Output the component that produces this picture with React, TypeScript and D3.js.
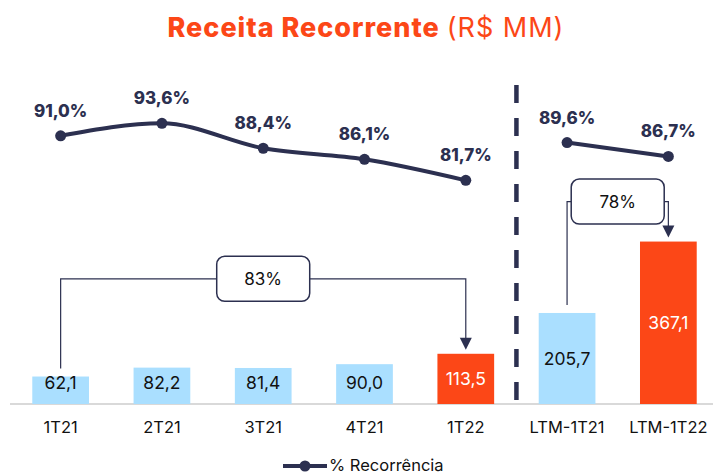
import React, { useRef, useEffect } from 'react';
import * as d3 from 'd3';

// periods and values
const categories = ['1T21', '2T21', '3T21', '4T21', '1T22', 'LTM-1T21', 'LTM-1T22'];
const revenue = [62.1, 82.2, 81.4, 90.0, 113.5, 205.7, 367.1];
const recurrence = [91.0, 93.6, 88.4, 86.1, 81.7, 89.6, 86.7];
const highlighted = ['1T22', 'LTM-1T22'];
const quarterly = ['1T21', '2T21', '3T21', '4T21', '1T22'];
const ltm = ['LTM-1T21', 'LTM-1T22'];
const growthLabels = [
  { from: '1T21', to: '1T22', text: '83%' },
  { from: 'LTM-1T21', to: 'LTM-1T22', text: '78%' },
];

const fmt = (v: number) => v.toFixed(1).replace('.', ',');

const App = () => {
  const svgRef = useRef<SVGSVGElement | null>(null);

  useEffect(() => {
    const svg = d3.select(svgRef.current);
    svg.selectAll('*').remove();

    const width = 713;
    const height = 476;
    const base = 404;
    const navy = '#2c3050';
    const orange = '#fc4717';
    const blue = '#aadfff';
    const font = 'Inter, "Noto Sans", sans-serif';

    svg.attr('width', width).attr('height', height);

    const x = d3.scaleBand().domain(categories).range([10, 719]).paddingInner(0.44).paddingOuter(0.22);
    const y = d3.scaleLinear().domain([0, 400]).range([base, base - 177]);
    const yp = d3.scaleLinear().domain([80, 100]).range([188.5, 92.7]);
    const cx = (c: string) => (x(c) as number) + x.bandwidth() / 2;

    // title
    const title = svg.append('text')
      .attr('x', 366).attr('y', 37)
      .attr('text-anchor', 'middle')
      .attr('font-family', font)
      .attr('font-size', 27)
      .attr('letter-spacing', 1)
      .attr('fill', orange);
    title.append('tspan').attr('font-weight', 800).text('Receita Recorrente ');
    title.append('tspan').attr('font-weight', 400).text('(R$ MM)');

    // baseline
    svg.append('line')
      .attr('x1', 10).attr('x2', width)
      .attr('y1', base).attr('y2', base)
      .attr('stroke', '#d9d9d9').attr('stroke-width', 2);

    // separator
    const sepX = (cx('1T22') + cx('LTM-1T21')) / 2;
    svg.append('line')
      .attr('x1', sepX).attr('x2', sepX)
      .attr('y1', 85).attr('y2', base)
      .attr('stroke', navy).attr('stroke-width', 4.5)
      .attr('stroke-dasharray', '18 15');

    // bars
    const data = categories.map((c, i) => ({ c, v: revenue[i], p: recurrence[i] }));
    svg.selectAll('rect.bar')
      .data(data)
      .join('rect')
      .attr('class', 'bar')
      .attr('x', d => x(d.c) as number)
      .attr('y', d => y(d.v))
      .attr('width', x.bandwidth())
      .attr('height', d => base - y(d.v))
      .attr('fill', d => (highlighted.includes(d.c) ? orange : blue));

    svg.selectAll('text.val')
      .data(data)
      .join('text')
      .attr('class', 'val')
      .attr('x', d => cx(d.c))
      .attr('y', d => Math.min((y(d.v) + base) / 2, base - 21))
      .attr('dy', '0.35em')
      .attr('text-anchor', 'middle')
      .attr('font-family', font)
      .attr('font-size', 17.5)
      .attr('fill', d => (highlighted.includes(d.c) ? '#fff' : '#111'))
      .text(d => fmt(d.v));

    // x labels
    svg.selectAll('text.cat')
      .data(categories)
      .join('text')
      .attr('class', 'cat')
      .attr('x', d => cx(d))
      .attr('y', 433)
      .attr('text-anchor', 'middle')
      .attr('font-family', font)
      .attr('font-size', 16.5)
      .attr('fill', '#111')
      .text(d => d);

    // growth brackets (vertical offset of the box above the taller bar)
    const lift: Record<string, number> = { '83%': 75, '78%': 40 };
    growthLabels.forEach(g => {
      const d0 = data.find(d => d.c === g.from)!;
      const d1 = data.find(d => d.c === g.to)!;
      const x0 = cx(g.from);
      const x1 = cx(g.to);
      const mid = (x0 + x1) / 2;
      const top = Math.min(y(d0.v), y(d1.v)) - lift[g.text];
      const bw = 93;
      const bh = 45;
      const tip = y(d1.v) - 4;
      svg.append('path')
        .attr('d', `M${x0},${y(d0.v) - 8}V${top}H${mid - bw / 2}M${mid + bw / 2},${top}H${x1}V${tip - 10}`)
        .attr('fill', 'none').attr('stroke', navy).attr('stroke-width', 1.2);
      svg.append('path')
        .attr('d', `M${x1 - 6},${tip - 12}L${x1 + 6},${tip - 12}L${x1},${tip}Z`)
        .attr('fill', navy);
      svg.append('rect')
        .attr('x', mid - bw / 2).attr('y', top - bh / 2)
        .attr('width', bw).attr('height', bh)
        .attr('rx', 8)
        .attr('fill', '#fff').attr('stroke', navy).attr('stroke-width', 1.5);
      svg.append('text')
        .attr('x', mid).attr('y', top)
        .attr('dy', '0.35em')
        .attr('text-anchor', 'middle')
        .attr('font-family', font)
        .attr('font-size', 17)
        .attr('fill', '#111')
        .text(g.text);
    });

    // recurrence lines (two separate segments)
    const line = d3.line<{ c: string; p: number }>()
      .x(d => cx(d.c))
      .y(d => yp(d.p))
      .curve(d3.curveMonotoneX);

    [quarterly, ltm].forEach(group => {
      const pts = data.filter(d => group.includes(d.c));
      svg.append('path')
        .datum(pts)
        .attr('d', line)
        .attr('fill', 'none')
        .attr('stroke', navy)
        .attr('stroke-width', 4);
    });

    svg.selectAll('circle.pt')
      .data(data)
      .join('circle')
      .attr('class', 'pt')
      .attr('cx', d => cx(d.c))
      .attr('cy', d => yp(d.p))
      .attr('r', 5.5)
      .attr('fill', navy);

    svg.selectAll('text.pct')
      .data(data)
      .join('text')
      .attr('class', 'pct')
      .attr('x', d => cx(d.c))
      .attr('y', d => yp(d.p) - 19)
      .attr('text-anchor', 'middle')
      .attr('font-family', font)
      .attr('font-size', 17)
      .attr('font-weight', 800)
      .attr('fill', navy)
      .text(d => fmt(d.p) + '%');

    // legend
    svg.append('line')
      .attr('x1', 283).attr('x2', 327)
      .attr('y1', 466).attr('y2', 466)
      .attr('stroke', navy).attr('stroke-width', 4);
    svg.append('circle').attr('cx', 305).attr('cy', 466).attr('r', 5.5).attr('fill', navy);
    svg.append('text')
      .attr('x', 329).attr('y', 471)
      .attr('font-family', font)
      .attr('font-size', 16.5)
      .attr('fill', '#111')
      .text('% Recorrência');
  }, []);

  return (
    <svg ref={svgRef} style={{ position: 'absolute', left: 0, top: 0 }}></svg>
  );
};

export default App;
